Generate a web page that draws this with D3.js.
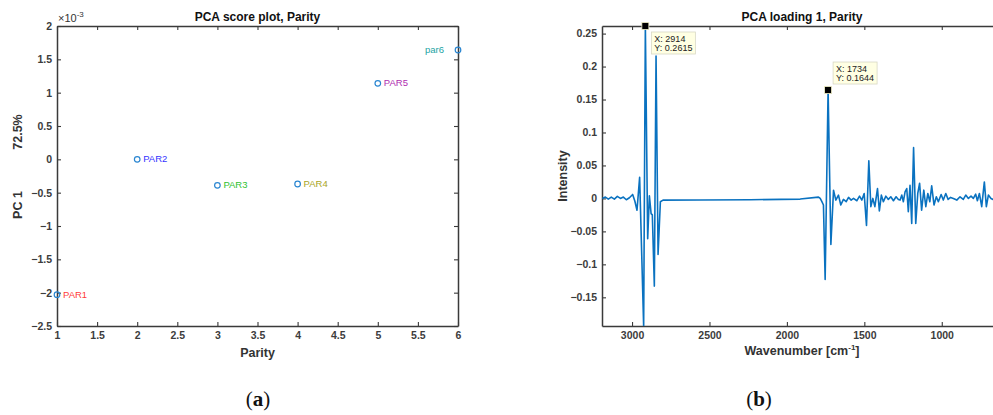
<!DOCTYPE html>
<html>
<head>
<meta charset="utf-8">
<script src="https://cdn.jsdelivr.net/npm/d3@7"></script>
<style>
  html, body { margin: 0; padding: 0; background: #fff; }
  svg { display: block; }
  text { font-family: "Liberation Sans", Arial, sans-serif; }
</style>
</head>
<body>
<svg id="chart" width="993" height="415"></svg>
<script>
// ---------- Data: panel (a) PCA score plot ----------
const parity = [1, 2, 3, 4, 5, 6];
const pc1Scores = [-2.03, 0.00, -0.39, -0.37, 1.14, 1.64]; // ×10^-3
const sampleLabels = ["PAR1", "PAR2", "PAR3", "PAR4", "PAR5", "par6"];
const labelColors = ["#ff3b3b", "#3434ff", "#2fbf2f", "#a9a51e", "#b02cb0", "#23a3a3"];
const scoreXTicks = [1, 1.5, 2, 2.5, 3, 3.5, 4, 4.5, 5, 5.5, 6];
const scoreYTicks = [-2.5, -2, -1.5, -1, -0.5, 0, 0.5, 1, 1.5, 2];

// ---------- Data: panel (b) PCA loading 1 ----------
const wavenumber = [3192, 3172, 3153, 3134, 3114, 3095, 3075, 3056, 3037, 3017, 2996, 2982, 2968, 2951, 2925, 2914, 2899, 2888, 2877, 2869, 2856, 2845, 2832, 2817, 2800, 2559, 2237, 1914, 1796, 1785, 1774, 1764, 1753, 1734, 1716, 1699, 1684, 1667, 1652, 1635, 1617, 1602, 1585, 1570, 1548, 1531, 1516, 1501, 1486, 1471, 1458, 1445, 1432, 1415, 1403, 1390, 1377, 1361, 1345, 1329, 1312, 1295, 1280, 1269, 1258, 1248, 1237, 1226, 1216, 1205, 1194, 1182, 1168, 1155, 1143, 1130, 1116, 1103, 1090, 1077, 1065, 1050, 1035, 1022, 1004, 990, 974, 959, 943, 925, 903, 882, 861, 845, 828, 811, 796, 781, 770, 757, 742, 725, 712, 699, 682, 669, 650, 630, 611];
const loading1 = [0.000, 0.002, -0.001, 0.002, -0.001, 0.003, 0.000, 0.002, -0.002, 0.001, 0.006, -0.004, -0.018, 0.032, -0.194, 0.2615, -0.061, 0.004, -0.023, -0.025, -0.133, 0.216, -0.085, -0.005, -0.0026, -0.0025, -0.002, -0.001, 0.002, 0.000, -0.005, -0.010, -0.123, 0.1644, -0.070, 0.0125, -0.0025, 0.005, -0.010, -0.0015, -0.005, 0.0015, -0.0025, 0.000, -0.0035, 0.0035, -0.0025, 0.0075, -0.041, 0.057, -0.0125, 0.000, -0.0125, 0.015, -0.019, 0.005, -0.005, 0.0035, -0.0015, 0.0025, -0.0035, 0.0025, -0.0015, -0.0025, 0.005, -0.005, 0.010, 0.015, -0.020, 0.020, -0.038, 0.077, -0.038, 0.0075, 0.023, -0.018, 0.0125, -0.0125, 0.0075, -0.005, 0.019, -0.010, 0.0025, -0.005, 0.006, -0.0025, 0.0075, -0.0015, 0.0015, 0.000, -0.0025, 0.0025, -0.0015, 0.005, 0.000, 0.0035, 0.000, 0.0065, -0.0035, 0.0075, -0.0125, 0.025, -0.0125, 0.005, 0.000, -0.0015, 0.002, -0.001, 0.000];
const loadXTicks = [3000, 2500, 2000, 1500, 1000];
const loadYTicks = [-0.15, -0.1, -0.05, 0, 0.05, 0.1, 0.15, 0.2, 0.25];
const dataTipX = [2914, 1734];
const dataTipY = [0.2615, 0.1644];

const svg = d3.select("#chart");
const axisColor = "#3a3a3a";
const tickTextColor = "#3c3c3c";
const TICK = 4;

// ================= Panel (a) =================
const a = { left: 57, right: 458, top: 26, bottom: 326 };
const xA = d3.scaleLinear().domain([1, 6]).range([a.left, a.right]);
const yA = d3.scaleLinear().domain([-2.5, 2]).range([a.bottom, a.top]);

const gA = svg.append("g");
function styleAxis(g) {
  g.selectAll("path.domain").attr("stroke", axisColor).attr("stroke-width", 1.5);
  g.selectAll(".tick line").attr("stroke", axisColor).attr("stroke-width", 1.1);
  g.selectAll(".tick text").attr("fill", tickTextColor)
    .style("font-size", "10.5px").style("font-weight", "bold")
    .style("font-family", "'Liberation Sans', Arial, sans-serif");
}
const fmtA = d => d3.format("")(d);
gA.append("g").attr("transform", `translate(0,${a.bottom})`)
  .call(d3.axisBottom(xA).tickValues(scoreXTicks).tickFormat(fmtA).tickSizeInner(-TICK).tickSizeOuter(0).tickPadding(6))
  .call(styleAxis);
gA.append("g").attr("transform", `translate(0,${a.top})`)
  .call(d3.axisTop(xA).tickValues(scoreXTicks).tickFormat("").tickSizeInner(-TICK).tickSizeOuter(0))
  .call(styleAxis);
gA.append("g").attr("transform", `translate(${a.left},0)`)
  .call(d3.axisLeft(yA).tickValues(scoreYTicks).tickFormat(fmtA).tickSizeInner(-TICK).tickSizeOuter(0).tickPadding(5))
  .call(styleAxis);
gA.append("g").attr("transform", `translate(${a.right},0)`)
  .call(d3.axisRight(yA).tickValues(scoreYTicks).tickFormat("").tickSizeInner(-TICK).tickSizeOuter(0))
  .call(styleAxis);

// exponent label
const expT = gA.append("text").attr("x", a.left + 1).attr("y", 22)
  .attr("fill", "#333").style("font-size", "11px");
expT.append("tspan").text("\u00d710");
expT.append("tspan").attr("dy", -5).style("font-size", "8px").text("-3");

// points & labels
const pts = parity.map((p, i) => ({ x: p, y: pc1Scores[i], label: sampleLabels[i], color: labelColors[i] }));
gA.selectAll("circle.pt").data(pts).enter().append("circle")
  .attr("cx", d => xA(d.x)).attr("cy", d => yA(d.y)).attr("r", 2.8)
  .attr("fill", "none").attr("stroke", "#2a86d1").attr("stroke-width", 1.2);
gA.selectAll("text.lbl").data(pts).enter().append("text")
  .attr("x", d => d.label === "par6" ? xA(d.x) - 14 : xA(d.x) + 6)
  .attr("y", d => yA(d.y) + 3)
  .attr("text-anchor", d => d.label === "par6" ? "end" : "start")
  .attr("fill", d => d.color).style("font-size", "9.5px")
  .text(d => d.label);

// titles & labels
gA.append("text").attr("x", (a.left + a.right) / 2).attr("y", 21).attr("text-anchor", "middle")
  .style("font-size", "12px").style("font-weight", "bold").attr("fill", "#111").text("PCA score plot, Parity");
gA.append("text").attr("x", (a.left + a.right) / 2).attr("y", 357).attr("text-anchor", "middle")
  .style("font-size", "12.5px").style("font-weight", "bold").attr("fill", "#333").text("Parity");
gA.append("text").attr("transform", "translate(22,205) rotate(-90)").attr("text-anchor", "middle")
  .style("font-size", "12.5px").style("font-weight", "bold").attr("fill", "#333").text("PC 1");
gA.append("text").attr("transform", "translate(22,132) rotate(-90)").attr("text-anchor", "middle")
  .style("font-size", "12.5px").style("font-weight", "bold").attr("fill", "#333").text("72.5%");

// ================= Panel (b) =================
const b = { left: 602, right: 1002, top: 26, bottom: 326 };
const xB = d3.scaleLinear().domain([3194, 611]).range([b.left, b.right]);
const yB = d3.scaleLinear().domain([-0.1935, 0.2615]).range([b.bottom, b.top]);
const gB = svg.append("g");

gB.append("g").attr("transform", `translate(0,${b.bottom})`)
  .call(d3.axisBottom(xB).tickValues(loadXTicks).tickFormat(d3.format("")).tickSizeInner(-TICK).tickSizeOuter(0).tickPadding(6))
  .call(styleAxis);
gB.append("g").attr("transform", `translate(0,${b.top})`)
  .call(d3.axisTop(xB).tickValues(loadXTicks).tickFormat("").tickSizeInner(-TICK).tickSizeOuter(0))
  .call(styleAxis);
gB.append("g").attr("transform", `translate(${b.left},0)`)
  .call(d3.axisLeft(yB).tickValues(loadYTicks).tickFormat(d3.format("")).tickSizeInner(-TICK).tickSizeOuter(0).tickPadding(5))
  .call(styleAxis);

svg.append("defs").append("clipPath").attr("id", "clipB")
  .append("rect").attr("x", b.left).attr("y", b.top - 1).attr("width", b.right - b.left).attr("height", b.bottom - b.top + 1);

const spec = wavenumber.map((w, i) => ({ x: w, y: loading1[i] }));
const line = d3.line().x(d => xB(d.x)).y(d => yB(d.y));
gB.append("path").datum(spec).attr("d", line).attr("clip-path", "url(#clipB)")
  .attr("fill", "none").attr("stroke", "#0a72c0").attr("stroke-width", 1.6).attr("stroke-linejoin", "round");

// data tips
const tipOffsets = [[6, 6], [5, -28]];
dataTipX.forEach((wx, i) => {
  const px = xB(wx), py = yB(dataTipY[i]);
  const bx = px + tipOffsets[i][0], by = py + tipOffsets[i][1];
  gB.append("rect").attr("x", bx).attr("y", by).attr("width", 44).attr("height", 22)
    .attr("fill", "#ffffe3").attr("stroke", "#d8d8c4").attr("stroke-width", 0.8);
  gB.append("text").attr("x", bx + 3).attr("y", by + 9.5).style("font-size", "9px").attr("fill", "#222")
    .text("X: " + wx);
  gB.append("text").attr("x", bx + 3).attr("y", by + 18.5).style("font-size", "9px").attr("fill", "#222")
    .text("Y: " + dataTipY[i]);
  gB.append("rect").attr("x", px - 3.5).attr("y", py - 3.5).attr("width", 7).attr("height", 7)
    .attr("fill", "#000").attr("stroke", "#f2f0c8").attr("stroke-width", 0.8);
});

gB.append("text").attr("x", (b.left + b.right) / 2).attr("y", 21).attr("text-anchor", "middle")
  .style("font-size", "12px").style("font-weight", "bold").attr("fill", "#111").text("PCA loading 1, Parity");
gB.append("text").attr("transform", "translate(567,176) rotate(-90)").attr("text-anchor", "middle")
  .style("font-size", "12.5px").style("font-weight", "bold").attr("fill", "#333").text("Intensity");
const xl = gB.append("text").attr("x", (b.left + b.right) / 2).attr("y", 355).attr("text-anchor", "middle")
  .style("font-size", "12.5px").style("font-weight", "bold").attr("fill", "#333");
xl.append("tspan").text("Wavenumber [cm");
xl.append("tspan").attr("dy", -5).style("font-size", "8px").text("-1");
xl.append("tspan").attr("dy", 5).text("]");

// captions
function caption(x, letter) {
  const t = svg.append("text").attr("x", x).attr("y", 406).attr("text-anchor", "middle")
    .style("font-family", "'Liberation Serif', 'DejaVu Serif', serif").style("font-size", "21px").attr("fill", "#111");
  t.append("tspan").text("(");
  t.append("tspan").style("font-weight", "bold").text(letter);
  t.append("tspan").text(")");
}
caption(258, "a");
caption(759, "b");
</script>
</body>
</html>
